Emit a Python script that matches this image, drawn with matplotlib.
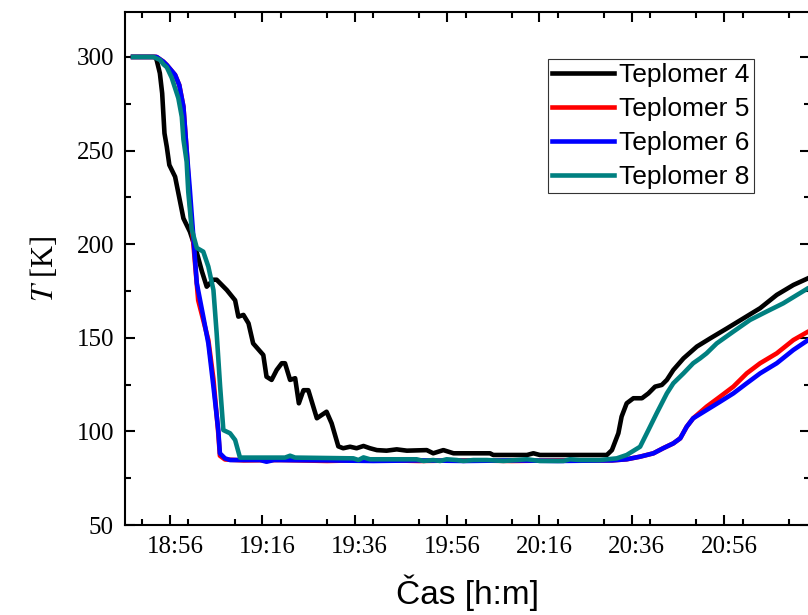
import matplotlib
matplotlib.use("Agg")
import matplotlib.pyplot as plt
from matplotlib.ticker import MultipleLocator, FuncFormatter
from matplotlib.transforms import ScaledTranslation

# time in minutes after 18:00, temperature in K
t4 = [48.0, 52.75, 53.1, 53.8, 54.3, 54.8, 55.3, 55.85, 57.1, 58.9, 60.3, 61.8,
      62.9, 63.95, 65.4, 66.1, 68.3, 70.1, 70.8, 71.9, 73.0, 74.0, 76.2, 76.9,
      78.0, 79.1, 80.2, 80.9, 82.0, 83.1, 83.9, 84.9, 85.95, 87.8, 89.9, 91.0,
      92.45, 93.5, 95.0, 96.4, 97.9, 99.3, 100.8, 102.9, 105.1, 107.3, 111.6,
      113.0, 115.2, 117.4, 125.3, 126.0, 133.3, 134.7, 136.1, 150.6, 151.7,
      153.1, 153.8, 154.9, 156.35, 158.2, 159.6, 161.05, 162.5, 163.6, 165.0,
      167.2, 170.1, 173.0, 176.6, 180.2, 183.8, 187.4, 191.0, 194.2, 196.0]
T4 = [300, 300, 298.4, 291.3, 280.6, 259.2, 252, 242.3, 236, 213.8, 206.7, 195.5,
      185.5, 177.3, 181, 181, 175.5, 170, 161.3, 162.2, 157.7, 147, 140.8, 129.2,
      127.5, 132.8, 136.4, 136.4, 127.5, 128.4, 115, 122, 122, 107, 110.5, 104.3,
      92, 91, 91.8, 91, 92.2, 91, 90, 89.7, 90.4, 89.7, 90,
      88.3, 90, 88.3, 88.3, 87.4, 87.4, 88.3, 87.4, 87.4, 90,
      99, 107.9, 115, 117.7, 117.7, 120.3, 123.9, 124.8, 127.5, 132.8,
      139, 145.3, 149.7, 155, 160.4, 165.8, 172.9, 178.2, 181.8, 184]

t5 = [48.0, 53.1, 54.55, 55.3, 57.1, 58.0, 58.9, 59.6, 60.3, 62.1, 64.3, 65.4,
      66.45, 66.8, 67.9, 72.0, 80.0, 90.0, 100.0, 110.0, 120.0, 130.0, 140.0,
      151.7, 154.9, 157.8, 160.7, 162.8, 165.0, 166.5, 167.9, 169.3, 172.2,
      175.1, 178.0, 180.9, 183.8, 187.4, 191.0, 194.2, 196.0]
T5 = [300, 300, 297.5, 295.7, 290.4, 285, 273.5, 250.3, 222, 170, 148.8, 128,
      99, 87, 85, 84.5, 84.7, 84.2, 84.7, 84.2, 84.5, 84.2, 84.5,
      84.5, 85.1, 86.5, 88.3, 91, 93.6, 96.3, 102.5, 107, 113.2,
      118.5, 123.9, 131, 136.4, 141.7, 148.8, 153.3, 155]

t6 = [48.0, 53.1, 54.55, 55.3, 57.1, 58.0, 58.9, 59.6, 60.3, 61.05, 61.8, 63.2,
      64.3, 65.4, 66.45, 66.8, 67.9, 69.0, 75.5, 76.9, 78.5, 90.0, 100.0, 110.0,
      120.0, 130.0, 140.0, 151.7, 154.9, 157.8, 160.7, 162.8, 165.0, 166.5,
      167.9, 169.3, 172.2, 175.1, 178.0, 180.9, 183.8, 187.4, 191.0, 194.2, 196.0]
T6 = [300, 300, 297.5, 295.7, 290.4, 285, 273.5, 250.3, 228.9, 204, 179.1, 161.3,
      147, 124, 100.7, 88.3, 85.6, 84.7, 84.7, 83.8, 84.7, 84.5, 84.2, 84.5,
      84.2, 84.5, 84.2, 84.5, 85.1, 86.5, 88.3, 91, 93.6, 96.3,
      102.5, 107, 111.4, 115.8, 120.3, 125.7, 131, 136.4, 143.5, 148.8, 150.5]

t8 = [48.0, 52.4, 53.85, 54.6, 55.3, 56.35, 57.8, 58.55, 58.9, 59.6, 59.95, 60.7,
      61.8, 63.2, 64.3, 65.4, 66.1, 66.85, 67.55, 69.0, 70.1, 71.15, 73.3, 80.9,
      82.0, 83.1, 95.7, 96.8, 97.9, 99.3, 109.4, 110.9, 113.0, 114.5, 115.9,
      118.1, 119.5, 121.7, 124.6, 128.2, 133.3, 136.1, 141.2, 142.6, 144.8,
      149.1, 152.75, 154.9, 157.8, 159.6, 161.4, 163.6, 165.0, 167.2, 169.3,
      170.8, 172.2, 174.4, 178.0, 181.6, 185.2, 188.8, 192.4, 194.2, 196.0]
T8 = [300, 300, 298.4, 296, 294.5, 289, 278, 268, 256, 244, 228, 208,
      198, 196, 188, 175.5, 152.4, 124, 100.7, 99, 95.4, 86, 86, 86,
      87, 86, 85.6, 84.7, 86.1, 85.1, 85.1, 84.2, 84.7, 84.2, 85.1,
      84.7, 84.2, 84.7, 84.7, 84.2, 85.1, 84.2, 84.2, 85.1, 84.7,
      84.7, 85.6, 87.4, 91.8, 100.7, 109.7, 120.3, 125.7, 131, 136.4,
      139, 141.7, 147, 153.3, 159.5, 164, 168.4, 173.8, 176.5, 178]

xtick_pos = [56, 76, 96, 116, 136, 156, 176]

series = [("Teplomer 4", t4, T4, "black"),
          ("Teplomer 5", t5, T5, "#ff0000"),
          ("Teplomer 6", t6, T6, "#0000ff"),
          ("Teplomer 8", t8, T8, "#008080")]


def hm(v, pos):
    return f"{18 + int(v // 60)}:{int(round(v)) % 60:02d}"


def main():
    plt.rcParams["mathtext.fontset"] = "stix"
    fig = plt.figure(figsize=(8.08, 6.15), dpi=100)
    ax = fig.add_axes([125 / 808, 90 / 615, 685 / 808, 513 / 615])

    for name, t, T, c in series:
        ax.plot(t, T, color=c, lw=3.3, label=name, solid_joinstyle="round")

    ax.set_xlim(46.25, 194.6)
    ax.set_ylim(50, 324)
    ax.set_xticks(xtick_pos)
    ax.xaxis.set_minor_locator(MultipleLocator(10))
    ax.xaxis.set_major_formatter(FuncFormatter(hm))
    ax.yaxis.set_major_locator(MultipleLocator(50))
    ax.yaxis.set_minor_locator(MultipleLocator(25))

    for s in ax.spines.values():
        s.set_linewidth(1.5)
    ax.tick_params(which="both", direction="in", top=True, right=True, width=1.5)
    ax.tick_params(which="major", length=7.5, pad=8)
    ax.tick_params(which="minor", length=4)
    shift = ScaledTranslation(5 / 100, 0, fig.dpi_scale_trans)
    for lab in ax.get_xticklabels():
        lab.set_transform(lab.get_transform() + shift)
    for lab in ax.get_xticklabels() + ax.get_yticklabels():
        lab.set_fontfamily("Liberation Serif")
        lab.set_fontsize(18)

    ax.set_xlabel("Čas [h:m]", family="Liberation Sans", fontsize=24, labelpad=12)
    ax.set_ylabel(r"$\mathit{T}$ [K]", family="Liberation Serif", fontsize=22, labelpad=12)

    leg = ax.legend(loc="upper left", bbox_to_anchor=(0.6175, 0.908), borderaxespad=0,
                    prop={"family": "Liberation Sans", "size": 19}, fancybox=False,
                    framealpha=1, edgecolor="#333333", borderpad=0.15,
                    labelspacing=0.38, handlelength=2.35, handletextpad=0.2)
    leg.get_frame().set_linewidth(0.8)

    fig.savefig("out.png", dpi=100)


if __name__ == "__main__":
    main()
